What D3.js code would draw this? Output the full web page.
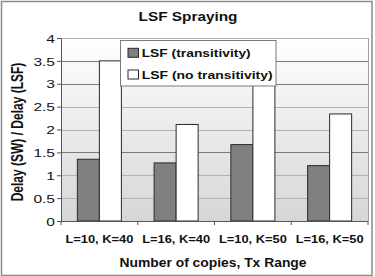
<!DOCTYPE html>
<html><head><meta charset="utf-8">
<script src="https://cdn.jsdelivr.net/npm/d3@7"></script>
<style>
html,body{margin:0;padding:0;background:#fff;}
text{font-family:"Liberation Sans",Arial,sans-serif;}
</style></head>
<body><svg id="c" width="375" height="276"></svg>
<script>
const categories = ["L=10, K=40", "L=16, K=40", "L=10, K=50", "L=16, K=50"];
const seriesNames = ["LSF (transitivity)", "LSF (no transitivity)"];
const transitivity = [1.35, 1.27, 1.67, 1.21];
const noTransitivity = [3.5, 2.11, 3.2, 2.34];
const yTicks = [0, 0.5, 1, 1.5, 2, 2.5, 3, 3.5, 4];
const yTickLabels = ["0", "0.5", "1", "1.5", "2", "2.5", "3", "3.5", "4"];
const chartTitle = "LSF Spraying";
const xTitle = "Number of copies, Tx Range";
const yTitle = "Delay (SW) / Delay (LSF)";

(function () {
const svg = d3.select("#c");
const pLeft = 61, pRight = 368, pTop = 38, pBottom = 221;

function stretch(sel, w) {
  sel.attr("textLength", w).attr("lengthAdjust", "spacingAndGlyphs");
}
function stretchFactor(sel, f) {
  sel.each(function () {
    const l = this.getComputedTextLength();
    d3.select(this).attr("textLength", l * f).attr("lengthAdjust", "spacingAndGlyphs");
  });
}

// outer border
svg.append("rect").attr("x", 1.5).attr("y", 1.5).attr("width", 370.5).attr("height", 274)
  .attr("fill", "#fff").attr("stroke", "#8a8a8a").attr("stroke-width", 1.5);

const defs = svg.append("defs");
const grad = defs.append("linearGradient").attr("id", "bg").attr("x1", 0).attr("y1", 0).attr("x2", 0).attr("y2", 1);
grad.append("stop").attr("offset", "0%").attr("stop-color", "#ffffff");
grad.append("stop").attr("offset", "100%").attr("stop-color", "#d6d6d6");

const x = d3.scaleBand().domain(categories).range([pLeft, pRight]).padding(0);
const xs = d3.scaleBand().domain(seriesNames).range([0, x.bandwidth()]).paddingInner(0).paddingOuter(0.743);
const y = d3.scaleLinear().domain([0, 4]).range([pBottom, pTop]);

// plot background
svg.append("rect").attr("x", pLeft).attr("y", pTop).attr("width", pRight - pLeft).attr("height", pBottom - pTop)
  .attr("fill", "url(#bg)");

// gridlines
const darkLines = new Set([1.5, 3, 3.5]);
svg.append("g").selectAll("line").data(yTicks.filter(d => d > 0)).join("line")
  .attr("x1", pLeft).attr("x2", pRight)
  .attr("y1", d => Math.round(y(d)) + 0.5).attr("y2", d => Math.round(y(d)) + 0.5)
  .attr("stroke", d => darkLines.has(d) ? "#7a7a7a" : "#b4b4b4").attr("stroke-width", 1);

// right frame
svg.append("line").attr("x1", pRight + 0.5).attr("x2", pRight + 0.5).attr("y1", pTop).attr("y2", pBottom)
  .attr("stroke", "#a0a0a0");

// bars
const data = categories.map((c, i) => ({ c, vals: [transitivity[i], noTransitivity[i]] }));
const fills = ["#808080", "#ffffff"];
const g = svg.append("g");
data.forEach(d => {
  d.vals.forEach((v, j) => {
    g.append("rect")
      .attr("x", x(d.c) + xs(seriesNames[j]))
      .attr("y", y(v))
      .attr("width", xs.bandwidth())
      .attr("height", y(0) - y(v))
      .attr("fill", fills[j]).attr("stroke", "#2a2a2a").attr("stroke-width", 1);
  });
});

// axes
const yAxis = d3.axisLeft(y).tickValues(yTicks).tickFormat((d, i) => yTickLabels[i]).tickSize(4).tickPadding(4);
const ya = svg.append("g").attr("transform", `translate(${pLeft},0)`).call(yAxis);
ya.select(".domain").attr("stroke", "#555");
ya.selectAll(".tick line").attr("stroke", "#555");
ya.selectAll(".tick text").attr("font-size", 11.5).attr("fill", "#111").attr("x", -6).attr("dy", "0.36em");
stretchFactor(ya.selectAll(".tick text"), 1.35);

const xAxis = d3.axisBottom(x).tickSize(0).tickFormat(d => d);
const xa = svg.append("g").attr("transform", `translate(0,${pBottom})`).call(xAxis);
xa.select(".domain").attr("stroke", "#555").attr("d", `M${pLeft},0.5H${pRight}`);
xa.selectAll(".tick text").attr("font-size", 10).attr("font-weight", "bold").attr("fill", "#111")
  .attr("y", 22.3).attr("dy", 0);
stretch(xa.selectAll(".tick text"), 68);
// boundary ticks
const bounds = categories.map(c => x(c)).concat([pRight]);
svg.append("g").selectAll("line").data(bounds).join("line")
  .attr("x1", d => d).attr("x2", d => d).attr("y1", pBottom).attr("y2", pBottom + 4)
  .attr("stroke", "#555");

// title
const t = svg.append("text").attr("x", 188).attr("y", 20.5).attr("text-anchor", "middle")
  .attr("font-size", 13).attr("font-weight", "bold").attr("fill", "#111").text(chartTitle);
stretch(t, 99);

// x title
const xt = svg.append("text").attr("x", 213).attr("y", 267.3).attr("text-anchor", "middle")
  .attr("font-size", 12).attr("font-weight", "bold").attr("fill", "#111").text(xTitle);
stretch(xt, 187);

// y title (horizontally stretched like the rest of the picture)
svg.append("text").attr("transform", "translate(23,132) scale(1.3,1) rotate(-90)").attr("text-anchor", "middle")
  .attr("font-size", 12).attr("font-weight", "bold").attr("fill", "#111").text(yTitle);

// legend
const lg = svg.append("g");
lg.append("rect").attr("x", 120.5).attr("y", 40.5).attr("width", 155.5).attr("height", 45.5)
  .attr("fill", "#fff").attr("stroke", "#7a7a7a").attr("stroke-width", 1);
const legY = [57.3, 79];
const legW = [109, 131];
seriesNames.forEach((s, i) => {
  lg.append("rect").attr("x", 128).attr("y", legY[i] - 9).attr("width", 10.5).attr("height", 9)
    .attr("fill", fills[i]).attr("stroke", "#2a2a2a").attr("stroke-width", 1);
  const tx = lg.append("text").attr("x", 141.7).attr("y", legY[i]).attr("font-size", 11.5)
    .attr("font-weight", "bold").attr("fill", "#111").text(s);
  stretch(tx, legW[i]);
});
})();
</script></body></html>
